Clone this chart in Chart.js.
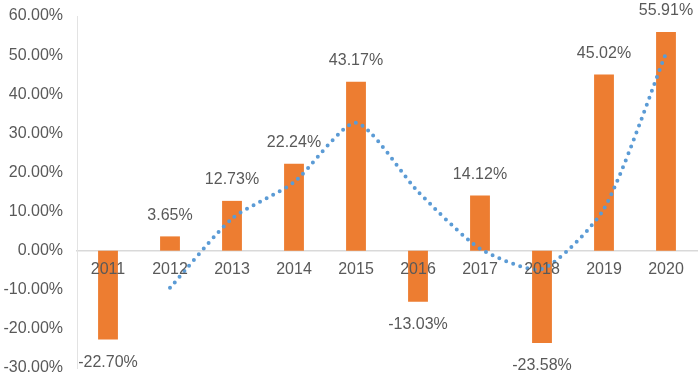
<!DOCTYPE html>
<html>
<head>
<meta charset="utf-8">
<script src="https://cdn.jsdelivr.net/npm/chart.js@4/dist/chart.umd.min.js"></script>
<style>
  html, body { margin: 0; padding: 0; background: #fff; }
  #wrap { width: 700px; height: 378px; }
</style>
</head>
<body>
<div id="wrap"><canvas id="growthChart"></canvas></div>
<script>
  // ---- data ----
  const years = ["2011", "2012", "2013", "2014", "2015", "2016", "2017", "2018", "2019", "2020"];
  const growth = [-22.70, 3.65, 12.73, 22.24, 43.17, -13.03, 14.12, -23.58, 45.02, 55.91];
  // dotted trend (2-period moving average, as drawn)
  const trend = [null, -9.5, 8.2, 17.5, 32.7, 15.1, 0.5, -4.7, 10.7, 50.5];
  const yTicks = [-30, -20, -10, 0, 10, 20, 30, 40, 50, 60];

  const textColor = "#595959";
  const fontFamily = "'Liberation Sans', Arial, sans-serif";

  // value labels above / below the bars
  const barLabels = {
    id: "barLabels",
    afterDatasetsDraw(chart) {
      const meta = chart.getDatasetMeta(1);
      const c = chart.ctx;
      c.save();
      c.font = "16px " + fontFamily;
      c.fillStyle = textColor;
      c.textAlign = "center";
      c.textBaseline = "middle";
      meta.data.forEach((bar, i) => {
        const v = growth[i];
        const y = v >= 0 ? bar.y - 21 : bar.y + 23;
        c.fillText(v.toFixed(2) + "%", bar.x, y);
      });
      c.restore();
    }
  };

  new Chart(document.getElementById("growthChart"), {
    data: {
      labels: years,
      datasets: [
        {
          type: "line",
          label: "trend",
          data: trend,
          order: 0,
          borderColor: "#5b9bd5",
          borderWidth: 4,
          borderDash: [0, 7.4],
          borderCapStyle: "round",
          pointRadius: 0,
          tension: 0.22,
          fill: false,
          spanGaps: false
        },
        {
          type: "bar",
          label: "growth",
          data: growth,
          order: 1,
          backgroundColor: "#ed7d31",
          barPercentage: 0.32,
          categoryPercentage: 1
        }
      ]
    },
    options: {
      responsive: true,
      maintainAspectRatio: false,
      animation: false,
      layout: { padding: { top: 16, bottom: 10, left: 0, right: 3 } },
      plugins: { legend: { display: false }, tooltip: { enabled: false } },
      scales: {
        x: {
          position: { y: 0 },
          grid: { display: false, drawTicks: false },
          border: { color: "#d9d9d9", width: 1.5 },
          ticks: { z: 1, color: textColor, font: { size: 16, family: fontFamily }, padding: 9, maxRotation: 0 }
        },
        y: {
          min: -30,
          max: 60,
          afterFit(scale) {
            scale.width = 77;
            scale.paddingTop = 0;
            scale.paddingBottom = 0;
          },
          afterBuildTicks(scale) { scale.ticks = yTicks.map(v => ({ value: v })); },
          grid: { display: false, drawTicks: false },
          border: { color: "#e3e3e3", width: 1 },
          ticks: {
            color: textColor,
            font: { size: 16, family: fontFamily },
            padding: 14,
            callback: v => v.toFixed(2) + "%"
          }
        }
      }
    },
    plugins: [barLabels]
  });
</script>
</body>
</html>
